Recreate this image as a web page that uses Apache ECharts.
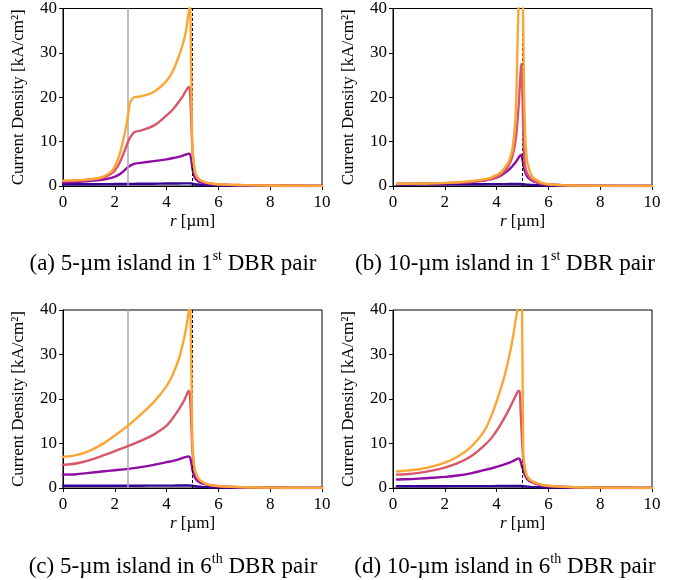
<!DOCTYPE html>
<html>
<head>
<meta charset="utf-8">
<script src="https://cdn.jsdelivr.net/npm/echarts@6/dist/echarts.min.js"></script>
<style>html,body{margin:0;padding:0;background:#fff}#c{width:681px;height:580px}</style>
</head>
<body>
<div id="c"></div>
<script>
// ---------- data ----------
const xTicks = [0, 2, 4, 6, 8, 10];
const yTicks = [0, 10, 20, 30, 40];
const islandEdge = [5];          // dashed line position (µm)
const innerMark = [2.5];         // grey line position in (a) and (c)
const captions = [
  ['(a) 5-µm island in 1', 'st', ' DBR pair'],
  ['(b) 10-µm island in 1', 'st', ' DBR pair'],
  ['(c) 5-µm island in 6', 'th', ' DBR pair'],
  ['(d) 10-µm island in 6', 'th', ' DBR pair']
];

// (a) 5-µm island, 1st DBR pair
const rA = [0,0.5,1,1.5,1.9,2.15,2.35,2.5,2.6,2.75,3,3.5,4,4.25,4.5,4.65,4.75,4.85,4.9,4.95,5.0,5.05,5.1,5.2,5.3,5.5,5.75,6,6.5,7,8,9,10];
const aBlue   = [0.4,0.4,0.4,0.42,0.43,0.44,0.45,0.46,0.47,0.48,0.5,0.52,0.55,0.56,0.58,0.59,0.6,0.6,0.6,0.58,0.5,0.45,0.4,0.33,0.28,0.2,0.15,0.1,0.07,0.05,0.02,0.01,0.0];
const aPurple = [0.8,0.9,1.1,1.4,1.9,2.5,3.4,4.2,4.6,5.0,5.2,5.6,6.0,6.3,6.6,6.9,7.1,7.3,7.2,6.0,3.8,2.6,1.8,1.2,0.9,0.6,0.4,0.3,0.2,0.15,0.08,0.04,0.02];
const aPink   = [1.1,1.2,1.4,1.8,2.9,4.8,7.5,9.8,11,12.1,12.5,13.6,15.9,17.3,19.2,20.5,21.5,22.3,21.5,15,8,5,3.0,1.8,1.3,0.8,0.5,0.35,0.25,0.18,0.1,0.05,0.03];
const aOrange = [1.2,1.3,1.5,2.0,3.5,6.5,11,15.5,19,20,20.2,21.2,23.7,26,29.7,32.5,35,39,41,25,8,5,3.0,1.8,1.3,0.8,0.55,0.4,0.28,0.2,0.1,0.05,0.03];

// (b) 10-µm island, 1st DBR pair
const rB = [0.17,0.5,1,1.5,2,2.5,3,3.5,3.75,4,4.2,4.4,4.5,4.6,4.7,4.75,4.8,4.85,4.9,4.95,5.0,5.05,5.1,5.15,5.2,5.3,5.4,5.5,5.75,6,6.5,7,8,9,10];
const bBlue   = [0.35,0.35,0.36,0.37,0.38,0.39,0.4,0.41,0.42,0.42,0.43,0.43,0.44,0.44,0.44,0.45,0.45,0.45,0.45,0.45,0.42,0.38,0.35,0.32,0.3,0.25,0.22,0.2,0.15,0.1,0.07,0.05,0.02,0.01,0.0];
const bPurple = [0.45,0.45,0.5,0.55,0.6,0.7,0.9,1.2,1.5,1.9,2.5,3.3,3.8,4.4,5.1,5.5,5.9,6.4,6.8,7.0,5.8,4.2,3.2,2.5,2.0,1.5,1.1,0.9,0.55,0.35,0.2,0.12,0.05,0.03,0.02];
const bPink   = [0.5,0.5,0.55,0.6,0.65,0.75,0.9,1.2,1.5,2.0,2.8,4.0,5.0,6.5,9,11,14,18,23,27.5,20,8,4.5,3.3,2.6,1.8,1.3,1.0,0.5,0.3,0.15,0.1,0.05,0.03,0.02];
const bOrange = [0.5,0.5,0.55,0.6,0.7,0.85,1.1,1.5,1.8,2.5,3.3,4.8,6.0,8.0,13,18,30,42,55,62,50,25,12,7,5,3,2,1.5,0.7,0.4,0.2,0.12,0.05,0.03,0.02];

// (c) 5-µm island, 6th DBR pair
const rC = [0,0.5,1,1.5,2,2.5,3,3.5,4,4.25,4.5,4.65,4.75,4.85,4.9,4.95,5.0,5.05,5.1,5.2,5.3,5.5,5.75,6,6.5,7,8,9,10];
const cBlue   = [0.5,0.5,0.5,0.5,0.51,0.52,0.52,0.53,0.54,0.54,0.55,0.55,0.55,0.55,0.55,0.53,0.5,0.45,0.4,0.33,0.28,0.2,0.15,0.1,0.07,0.05,0.02,0.01,0.0];
const cPurple = [3.0,3.1,3.4,3.7,4.0,4.3,4.7,5.2,5.8,6.1,6.5,6.8,7.0,7.1,6.9,5.8,4.0,3.0,2.3,1.6,1.2,0.8,0.5,0.35,0.22,0.15,0.07,0.03,0.02];
const cPink   = [5.2,5.5,6.2,7.2,8.3,9.4,10.6,12.0,14.0,15.8,17.9,19.4,20.6,21.8,21.0,15,8,5,3.5,2.2,1.6,0.95,0.55,0.4,0.25,0.16,0.07,0.03,0.02];
const cOrange = [7.0,7.4,8.3,9.8,11.8,14.0,16.5,19.3,22.9,25.6,29.5,33.0,35.8,39.5,41,28,10,6,4,2.4,1.7,1.0,0.6,0.45,0.28,0.18,0.08,0.04,0.02];

// (d) 10-µm island, 6th DBR pair
const rD = [0.15,0.5,1,1.5,2,2.5,3,3.5,3.85,4.25,4.5,4.65,4.75,4.82,4.88,4.93,4.98,5.03,5.08,5.13,5.2,5.3,5.5,5.75,6,6.5,7,8,9,10];
const dBlue   = [0.4,0.4,0.4,0.41,0.41,0.42,0.42,0.43,0.43,0.44,0.44,0.45,0.45,0.45,0.45,0.45,0.44,0.4,0.36,0.33,0.3,0.26,0.2,0.15,0.1,0.07,0.05,0.02,0.01,0.0];
const dPurple = [1.9,1.95,2.1,2.3,2.5,2.8,3.3,4.0,4.5,5.2,5.7,6.1,6.4,6.6,6.6,5.9,4.8,4.0,3.1,2.5,1.9,1.5,1.0,0.6,0.4,0.25,0.15,0.07,0.04,0.02];
const dPink   = [3.0,3.1,3.4,3.9,4.6,5.6,7.1,9.4,11.6,15.2,17.9,19.7,20.9,21.7,21.8,17,11,6.5,4.5,3.2,2.3,1.7,1.1,0.65,0.45,0.28,0.17,0.07,0.04,0.02];
const dOrange = [3.7,3.9,4.2,4.8,5.7,7.1,9.2,12.6,17.0,24.0,30.0,34.5,38.3,40.5,45,48,42,8,5,3.4,2.5,1.8,1.2,0.7,0.5,0.3,0.18,0.08,0.04,0.02];

// ---------- styling ----------
const colors = ['#350498', '#8f0da4', '#d8576b', '#fca636']; // plasma 0.05,0.3,0.55,0.8
const FONT = '"Liberation Serif", "Times New Roman", serif';

const panels = [
  {r: rA, ys: [aBlue, aPurple, aPink, aOrange], grey: true,  grid: {left: 63, top: 8, width: 259, height: 178}},
  {r: rB, ys: [bBlue, bPurple, bPink, bOrange], grey: false, grid: {left: 393, top: 8, width: 259, height: 178}},
  {r: rC, ys: [cBlue, cPurple, cPink, cOrange], grey: true,  grid: {left: 63, top: 310, width: 259, height: 178}},
  {r: rD, ys: [dBlue, dPurple, dPink, dOrange], grey: false, grid: {left: 393, top: 310, width: 259, height: 178}}
];

const grids = [], xAxes = [], yAxes = [], series = [];
panels.forEach((p, i) => {
  grids.push(Object.assign({show: true, borderColor: '#000', borderWidth: 1, backgroundColor: '#fff'}, p.grid));
  xAxes.push({
    type: 'value', gridIndex: i, min: xTicks[0], max: xTicks[xTicks.length - 1], interval: xTicks[1] - xTicks[0],
    axisLine: {show: true, onZero: false, lineStyle: {color: '#000', width: 1}},
    axisTick: {show: true, inside: false, length: 4, lineStyle: {color: '#000'}},
    axisLabel: {fontFamily: FONT, fontSize: 17, color: '#000', margin: 8},
    splitLine: {show: false},
    name: '{i|r} [µm]', nameLocation: 'middle', nameGap: 27,
    nameTextStyle: {fontFamily: FONT, fontSize: 17, color: '#000', rich: {i: {fontFamily: FONT, fontSize: 17, fontStyle: 'italic', color: '#000'}}}
  });
  yAxes.push({
    type: 'value', gridIndex: i, min: yTicks[0], max: yTicks[yTicks.length - 1], interval: yTicks[1] - yTicks[0],
    axisLine: {show: true, onZero: false, lineStyle: {color: '#000', width: 1}},
    axisTick: {show: true, inside: false, length: 4, lineStyle: {color: '#000'}},
    axisLabel: {fontFamily: FONT, fontSize: 17, color: '#000', margin: 6},
    splitLine: {show: false},
    name: 'Current Density [kA/cm²]', nameLocation: 'middle', nameGap: 36,
    nameTextStyle: {fontFamily: FONT, fontSize: 17, color: '#000'}
  });
  p.ys.forEach((vals, k) => {
    const s = {
      type: 'line', xAxisIndex: i, yAxisIndex: i, showSymbol: false, symbol: 'none', clip: true,
      smooth: 0.35,
      lineStyle: {color: colors[k], width: 2.4, cap: 'round', join: 'round'}, itemStyle: {color: colors[k]},
      data: p.r.map((x, j) => [x, vals[j]]), z: 3 + k
    };
    if (k === 0) {
      const ml = [{xAxis: islandEdge[0], lineStyle: {type: [3, 2], color: '#000', width: 1}}];
      if (p.grey) ml.push({xAxis: innerMark[0], lineStyle: {type: 'solid', color: '#aaaaaa', width: 1.5}});
      s.markLine = {silent: true, symbol: ['none', 'none'], label: {show: false}, animation: false, data: ml};
    }
    series.push(s);
  });
});

const capPos = [[173, 262], [505, 262], [173, 565], [505, 565]];
const graphic = captions.map((c, i) => ({
  type: 'text', x: capPos[i][0], y: capPos[i][1],
  style: {
    text: '{m|' + c[0] + '}{s|' + c[1] + '}{m|' + c[2] + '}',
    align: 'center', verticalAlign: 'middle',
    rich: {
      m: {fontFamily: FONT, fontSize: 23, lineHeight: 26, fill: '#000', color: '#000', verticalAlign: 'bottom'},
      s: {fontFamily: FONT, fontSize: 14, lineHeight: 15, fill: '#000', color: '#000', verticalAlign: 'top'}
    }
  }
}));

const chart = echarts.init(document.getElementById('c'), null, {renderer: 'canvas'});
chart.setOption({
  animation: false,
  backgroundColor: '#fff',
  grid: grids, xAxis: xAxes, yAxis: yAxes, series: series, graphic: graphic
});
</script>
</body>
</html>
